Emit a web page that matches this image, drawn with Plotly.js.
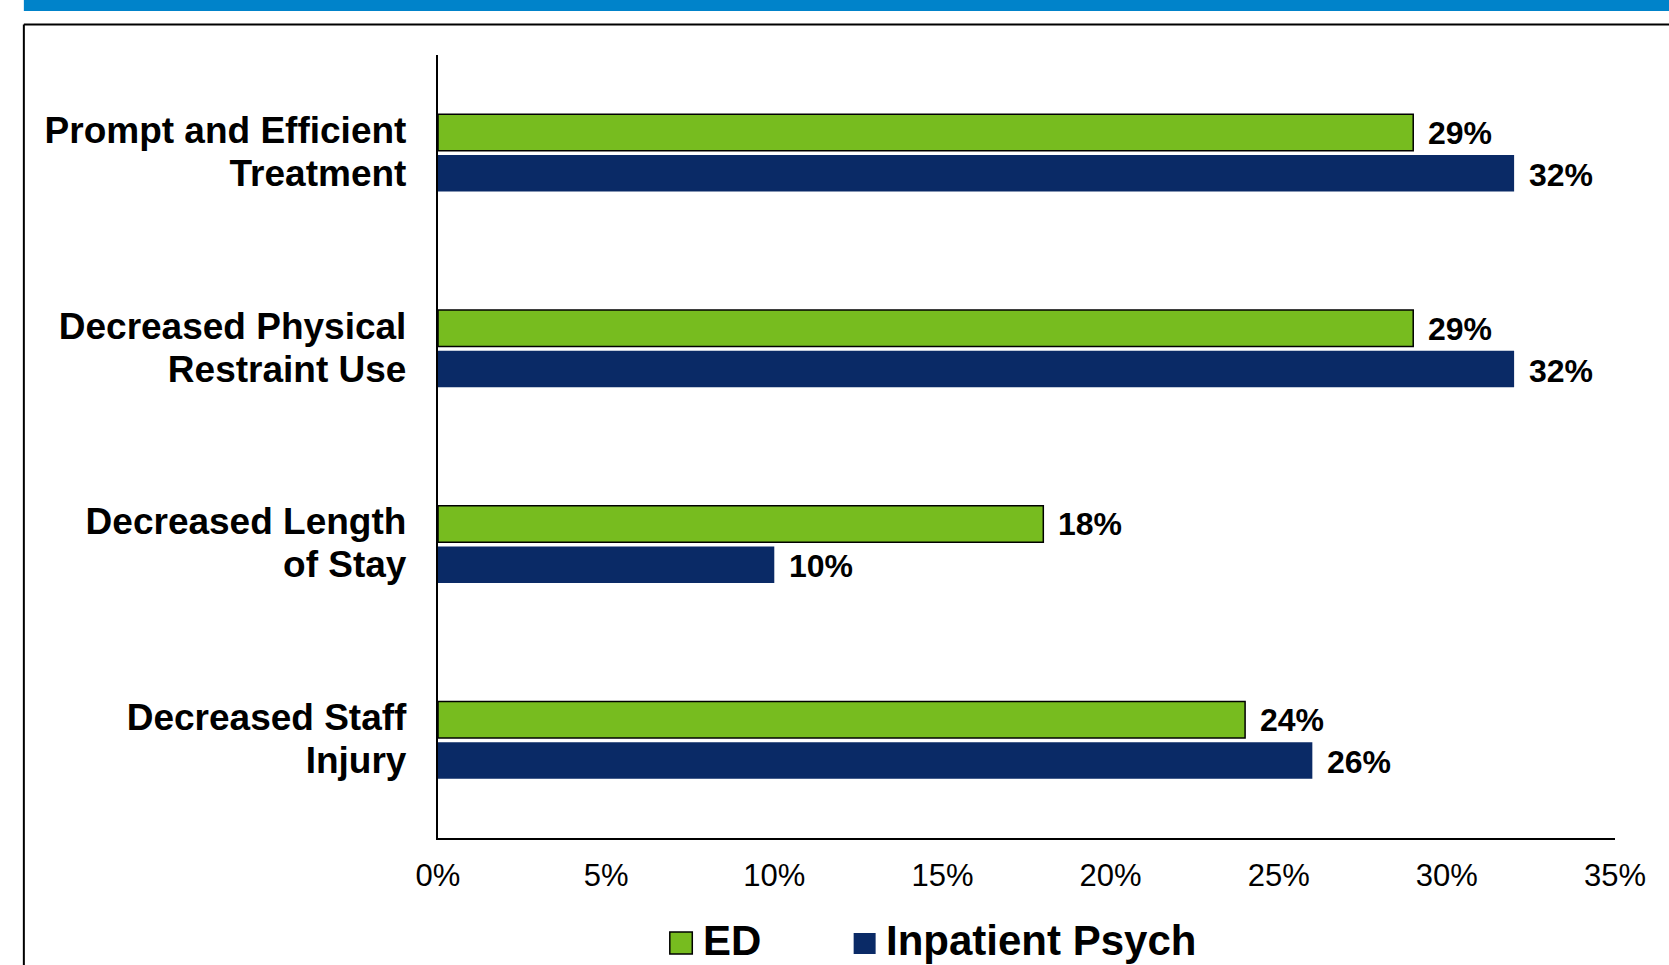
<!DOCTYPE html>
<html>
<head>
<meta charset="utf-8">
<script src="https://cdn.plot.ly/plotly-3.0.1.min.js"></script>
<style>
  html, body { margin: 0; padding: 0; background: #ffffff; }
  #chart { width: 1669px; height: 965px; }
</style>
</head>
<body>
<div id="chart"></div>
<script>
// Outcome categories (top to bottom) and share of respondents per setting
const categories = [
  'Prompt and Efficient<br>Treatment',
  'Decreased Physical<br>Restraint Use',
  'Decreased Length<br>of Stay',
  'Decreased Staff<br>Injury'
];
const edValues = [29, 29, 18, 24];
const inpatientValues = [32, 32, 10, 26];
const seriesNames = ['ED', 'Inpatient Psych'];
const xTickValues = [0, 5, 10, 15, 20, 25, 30, 35];
const xTickLabels = xTickValues.map(v => v + '%');

const GREEN = '#77BC1F';
const NAVY = '#0A2A66';
const BAND = '#0083CA';
const FONT = 'Liberation Sans, Arial, sans-serif';

// category labels: larger glyphs on a tighter line pitch
const categoryLabels = categories.map(c => '<span style="font-size:37px">' + c + '</span>');

const W = 1669, H = 965;
const M = { l: 437.5, r: 53.5, t: 55, b: 127 };
const plotW = W - M.l - M.r, plotH = H - M.t - M.b;
// pixel -> paper helpers for the decoration and the legend
const px = v => (v - M.l) / plotW;
const py = v => (H - M.b - v) / plotH;

const traces = [
  {
    type: 'bar', orientation: 'h', name: seriesNames[0],
    y: categories, x: edValues,
    marker: { color: GREEN, line: { color: '#000000', width: 1.5 } },
    hoverinfo: 'x+name'
  },
  {
    type: 'bar', orientation: 'h', name: seriesNames[1],
    y: categories, x: inpatientValues,
    marker: { color: NAVY, line: { width: 0 } },
    hoverinfo: 'x+name'
  }
];

// value labels just past the end of each bar
const annotations = [];
const labelFont = { family: FONT, size: 32, color: '#000000' };
categories.forEach((c, i) => {
  annotations.push({
    x: edValues[i], y: c, xref: 'x', yref: 'y',
    text: '<b>' + edValues[i] + '%</b>', showarrow: false,
    xanchor: 'left', yanchor: 'middle', xshift: 13, yshift: 20,
    font: labelFont
  });
  annotations.push({
    x: inpatientValues[i], y: c, xref: 'x', yref: 'y',
    text: '<b>' + inpatientValues[i] + '%</b>', showarrow: false,
    xanchor: 'left', yanchor: 'middle', xshift: 13, yshift: -22,
    font: labelFont
  });
});

// legend text
const legendFont = { family: FONT, size: 42, color: '#000000' };
annotations.push({
  x: px(701), y: py(941), xref: 'paper', yref: 'paper',
  text: '<b>' + seriesNames[0] + '</b>', showarrow: false,
  xanchor: 'left', yanchor: 'middle', font: legendFont
});
annotations.push({
  x: px(884), y: py(941), xref: 'paper', yref: 'paper',
  text: '<b>' + seriesNames[1] + '</b>', showarrow: false,
  xanchor: 'left', yanchor: 'middle', font: legendFont
});

const shapes = [
  // blue header band
  { type: 'rect', xref: 'paper', yref: 'paper', x0: px(23), x1: px(W + 5), y0: py(0), y1: py(11),
    fillcolor: BAND, line: { width: 0 }, layer: 'below' },
  // frame around the chart
  { type: 'line', xref: 'paper', yref: 'paper', x0: px(23), x1: px(W + 5), y0: py(24.5), y1: py(24.5),
    line: { color: '#000000', width: 2 } },
  { type: 'line', xref: 'paper', yref: 'paper', x0: px(23), x1: px(23), y0: py(24.5), y1: py(H + 5),
    line: { color: '#000000', width: 2 } },
  // legend swatches
  { type: 'rect', xref: 'paper', yref: 'paper', x0: px(669.5), x1: px(692), y0: py(932), y1: py(954),
    fillcolor: GREEN, line: { color: '#000000', width: 1.5 } },
  { type: 'rect', xref: 'paper', yref: 'paper', x0: px(853.5), x1: px(875.5), y0: py(933), y1: py(954),
    fillcolor: NAVY, line: { width: 0 } }
];

const layout = {
  width: W, height: H,
  margin: M,
  paper_bgcolor: '#ffffff', plot_bgcolor: '#ffffff',
  showlegend: false,
  barmode: 'group',
  bargap: 0.585,
  bargroupgap: 0.1,
  font: { family: FONT, color: '#000000' },
  xaxis: {
    range: [0, 35],
    tickmode: 'array',
    tickvals: xTickValues,
    ticktext: xTickLabels,
    showgrid: false, zeroline: false,
    showline: true, linecolor: '#000000', linewidth: 2,
    ticks: '', ticklabelstandoff: 9,
    tickfont: { family: FONT, size: 31, color: '#000000' },
    fixedrange: true
  },
  yaxis: {
    type: 'category',
    autorange: 'reversed',
    tickmode: 'array',
    tickvals: categories,
    ticktext: categoryLabels,
    showgrid: false, zeroline: false,
    showline: true, linecolor: '#000000', linewidth: 2,
    ticks: '', ticklabelstandoff: 23,
    tickfont: { family: FONT, size: 33, color: '#000000', weight: 'bold' },
    fixedrange: true
  },
  annotations: annotations,
  shapes: shapes
};

Plotly.newPlot('chart', traces, layout, { displayModeBar: false, staticPlot: true });
</script>
</body>
</html>
